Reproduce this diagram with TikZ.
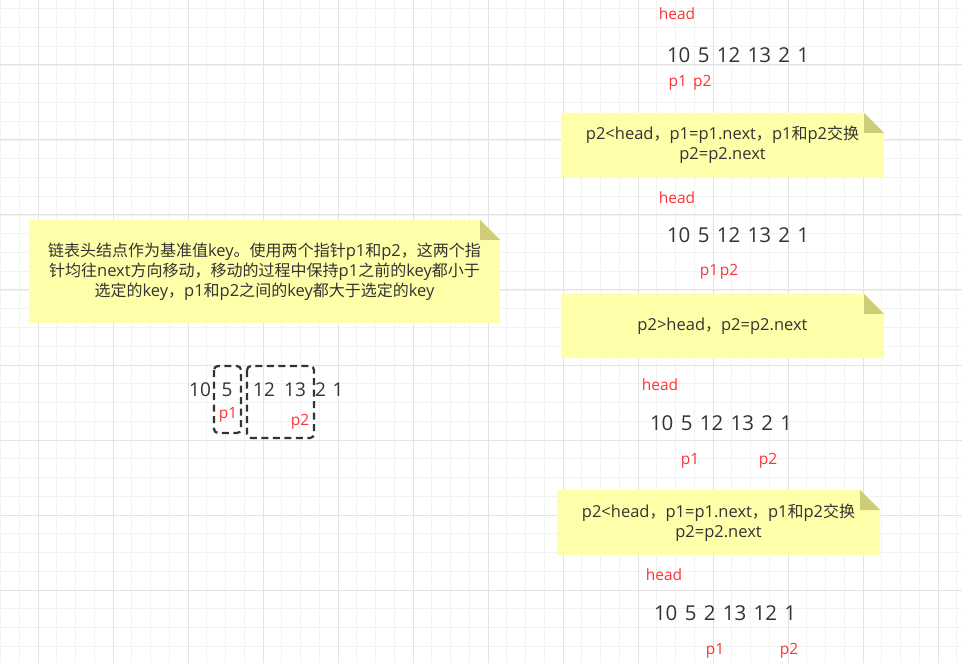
\documentclass[tikz,border=0pt]{standalone}
\usepackage{fontspec}
\setmainfont{Open Sans}
\newfontfamily\cjk[Scale=0.97]{Noto Sans CJK SC}
\definecolor{gridminor}{HTML}{F2F2F2}
\definecolor{gridmajor}{HTML}{E3E3E3}
\definecolor{txt}{HTML}{333333}
\definecolor{redtxt}{HTML}{FF3333}
\definecolor{notefill}{HTML}{FFFFAA}
\definecolor{notefold}{HTML}{CDCD77}
\newcommand\numfont{\fontsize{20.5}{24}\selectfont\spaceskip=7.3pt plus 0pt minus 0pt\relax}
\newcommand\leftnumfont{\fontsize{19}{22}\selectfont}
\newcommand\mynote[6]{%
  \fill[notefill] (#2,#3) -- ({#4-20},#3) -- (#4,{#3+20}) -- (#4,#5) -- (#2,#5) -- cycle;
  \fill[notefold] ({#4-20},#3) -- (#4,{#3+20}) -- ({#4-20},{#3+20}) -- cycle;
  \node[notetext] (#1) at ({(#2+#4)/2},{(#3+#5)/2}) {#6};
}
\tikzset{
  gmin/.style={draw=gridminor, line width=0.8pt},
  gmaj/.style={draw=gridmajor, line width=1pt},
  notetext/.style={align=center, text=txt, inner sep=0pt, font=\fontsize{16.5}{20}\selectfont},
  nums/.style={text=txt, inner sep=0pt, font=\numfont},
  lnums/.style={text=txt, inner sep=0pt, font=\leftnumfont},
  ptr/.style={text=redtxt, inner sep=0pt, font=\fontsize{15.5}{18}\selectfont},
  dashbox/.style={draw=txt, line width=2.2pt, dash pattern=on 7pt off 4.5pt, rounded corners=4pt}
}
\begin{document}
\begin{tikzpicture}[x=1pt,y=-1pt]
\useasboundingbox (0,0) rectangle (962,663);
\fill[white] (0,0) rectangle (962,663);
% grid
\foreach \i in {0,...,51} \draw[gmin] ({0.5+\i*18.75},0) -- ({0.5+\i*18.75},663);
\foreach \i in {0,...,34} \draw[gmin] (0,{8.75+\i*18.75}) -- (962,{8.75+\i*18.75});
\foreach \i in {0,...,12} \draw[gmaj] ({38+\i*75},0) -- ({38+\i*75},663);
\foreach \i in {0,...,7} \draw[gmaj] (0,{65+\i*75}) -- (962,{65+\i*75});

% left note
\mynote{n0}{29}{220}{500}{323}{{\cjk 链表头结点作为基准值}key{\cjk 。使用两个指针}p1{\cjk 和}p2{\cjk ，这两个指}\\
{\cjk 针均往}next{\cjk 方向移动，移动的过程中保持}p1{\cjk 之前的}key{\cjk 都小于}\\
{\cjk 选定的}key{\cjk ，}p1{\cjk 和}p2{\cjk 之间的}key{\cjk 都大于选定的}key}

% left example
\node[lnums] (l10) at (200,390) {10};
\node[lnums] (l5) at (227,390) {5};
\node[lnums] (l12) at (264,390) {12};
\node[lnums] (l13) at (295,390) {13};
\node[lnums] (l2) at (320.5,390) {2};
\node[lnums] (l1) at (338,390) {1};
\node[ptr] (lp1) at (228,415) {p1};
\node[ptr] (lp2) at (300,422) {p2};
\draw[dashbox] (214,366) rectangle (241,433);
\draw[dashbox] (247,366) rectangle (314,438);

% right column: step 1
\node[ptr] (h1) at (677,14) {head};
\node[nums] (s1) at (738,55) {10 5 12 13 2 1};
\node[ptr] (q1) at (690,83) {p1\hspace{6pt}p2};
\mynote{n1}{561}{113}{884}{177}{p2<head{\cjk ，}p1=p1.next{\cjk ，}p1{\cjk 和}p2{\cjk 交换}\\p2=p2.next}

% step 2
\node[ptr] (h2) at (677,198) {head};
\node[nums] (s2) at (738,235) {10 5 12 13 2 1};
\node[ptr] (q2) at (719,272) {p1\hspace{1.5pt}p2};
\mynote{n2}{561}{294}{884}{358}{p2>head{\cjk ，}p2=p2.next}

% step 3
\node[ptr] (h3) at (660,385) {head};
\node[nums] (s3) at (721,423) {10 5 12 13 2 1};
\node[ptr] (q3a) at (690,461) {p1};
\node[ptr] (q3b) at (768,461) {p2};
\mynote{n3}{557}{490}{880}{555}{p2<head{\cjk ，}p1=p1.next{\cjk ，}p1{\cjk 和}p2{\cjk 交换}\\p2=p2.next}

% step 4
\node[ptr] (h4) at (664,575) {head};
\node[nums] (s4) at (725,613) {10 5 2 13 12 1};
\node[ptr] (q4a) at (715,651) {p1};
\node[ptr] (q4b) at (789,651) {p2};
\end{tikzpicture}
\end{document}
